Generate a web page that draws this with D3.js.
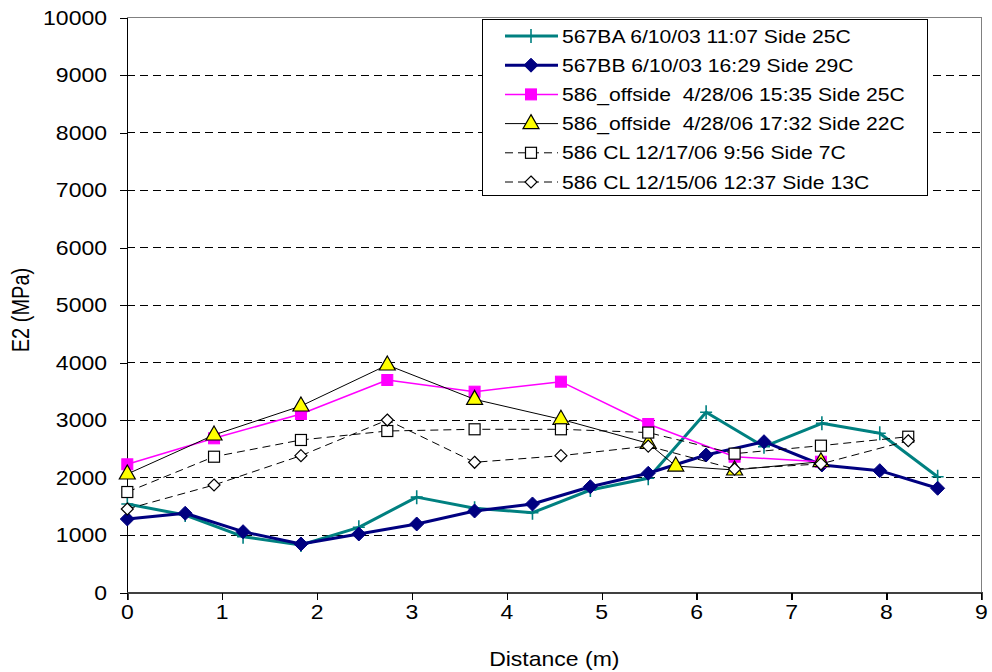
<!DOCTYPE html>
<html><head><meta charset="utf-8">
<script src="https://cdn.jsdelivr.net/npm/d3@7"></script>
<style>
html,body{margin:0;padding:0;background:#fff;}
svg{display:block;}
text{font-family:"Liberation Sans",Arial,Helvetica,sans-serif;fill:#000;white-space:pre;}
</style></head>
<body><svg id="c" width="992" height="672"></svg>
<script>
// ---------- data ----------
const xTicks = [0,1,2,3,4,5,6,7,8,9];
const yTicks = [0,1000,2000,3000,4000,5000,6000,7000,8000,9000,10000];
const xLabel = "Distance (m)";
const yLabel = "E2 (MPa)";

const dist567 = [0,0.61,1.22,1.83,2.44,3.05,3.66,4.27,4.88,5.49,6.10,6.71,7.32,7.93,8.54];
const e567BA  = [1543,1351,974,830,1137,1662,1468,1391,1786,1990,3137,2539,2946,2772,2017];
const e567BB  = [1282,1381,1061,847,1021,1195,1421,1543,1843,2077,2395,2626,2221,2122,1816];

const distOff1 = [0,0.914,1.83,2.74,3.66,4.57,5.49,6.40,7.31];
const eOff1    = [2233,2685,3108,3699,3496,3670,2934,2365,2278];

const distOff2 = [0,0.914,1.83,2.74,3.66,4.57,5.49,5.78,6.40,7.31];
const eOff2    = [2064,2743,3247,3960,3363,3016,2598,2203,2134,2278];

const distCL = [0,0.914,1.83,2.74,3.66,4.57,5.49,6.40,7.31,8.23];
const eCL1217 = [1751,2365,2656,2812,2842,2842,2785,2418,2557,2713];
const eCL1215 = [1456,1873,2383,3003,2268,2383,2550,2150,2240,2643];

const seriesNames = [
  "567BA 6/10/03 11:07 Side 25C",
  "567BB 6/10/03 16:29 Side 29C",
  "586_offside  4/28/06 15:35 Side 25C",
  "586_offside  4/28/06 17:32 Side 22C",
  "586 CL 12/17/06 9:56 Side 7C",
  "586 CL 12/15/06 12:37 Side 13C"
];

// ---------- layout / style ----------
const SX = 1.15;          // horizontal stretch of the reference glyphs
const svg = d3.select("#c");
const L = 127.3, R = 981.3, T = 17.7, B = 592.7;
const x = d3.scaleLinear().domain([0,9]).range([L,R]);
const y = d3.scaleLinear().domain([0,10000]).range([B,T]);

const styles = [
  {color:"#008080", width:3,   dash:null,  marker:"plus"},
  {color:"#000080", width:3,   dash:null,  marker:"diamondFill"},
  {color:"#FF00FF", width:1.5, dash:null,  marker:"squareFill"},
  {color:"#000000", width:1,   dash:null,  marker:"triangle"},
  {color:"#000000", width:1,   dash:"8,5", marker:"squareOpen"},
  {color:"#000000", width:1,   dash:"8,5", marker:"diamondOpen"}
];
const series = [
  {xs:dist567, ys:e567BA},
  {xs:dist567, ys:e567BB},
  {xs:distOff1, ys:eOff1},
  {xs:distOff2, ys:eOff2},
  {xs:distCL, ys:eCL1217},
  {xs:distCL, ys:eCL1215}
];

function txt(g, str, tx, ty, size, anchor, extra){
  return g.append("text")
    .attr("transform", `translate(${tx},${ty}) scale(${SX},1)` + (extra||""))
    .attr("text-anchor", anchor)
    .attr("font-size", size)
    .text(str);
}

// gridlines
const grid = svg.append("g");
yTicks.filter(v => v>0 && v<10000).forEach(v=>{
  grid.append("line").attr("x1",L).attr("x2",R).attr("y1",y(v)).attr("y2",y(v))
    .attr("stroke","#000").attr("stroke-width",1).attr("stroke-dasharray","8,5")
    .attr("shape-rendering","crispEdges");
});
// plot border (top/right)
svg.append("path").attr("d",`M${L},${T}H${R}V${B}`).attr("fill","none")
  .attr("stroke","#808080").attr("stroke-width",1.5).attr("shape-rendering","crispEdges");

// axes via d3
const yAxis = svg.append("g").attr("transform",`translate(${L},0)`)
  .call(d3.axisLeft(y).tickValues(yTicks).tickSize(7).tickFormat(""));
const xAxis = svg.append("g").attr("transform",`translate(0,${B})`)
  .call(d3.axisBottom(x).tickValues(xTicks).tickSize(7).tickFormat(""));
[yAxis,xAxis].forEach(a=>{
  a.selectAll("path,line").attr("stroke","#000").attr("stroke-width",1.3).attr("shape-rendering","crispEdges");
});
xAxis.select("path.domain").attr("stroke","#404040").attr("stroke-width",2);

const labels = svg.append("g");
yTicks.forEach(v=> txt(labels, String(v), 107, y(v)+7, 20, "end"));
xTicks.forEach(v=> txt(labels, String(v), x(v), 619, 20, "middle"));
txt(labels, xLabel, (L+R)/2 - 0, 666, 20, "middle");
labels.append("text")
  .attr("transform", `translate(29,310) scale(${SX},1) rotate(-90)`)
  .attr("text-anchor","middle").attr("font-size",20).text(yLabel);

// markers
function drawMarker(g, kind, cx, cy, color){
  switch(kind){
    case "plus":
      g.append("path").attr("d",`M${cx-6},${cy}H${cx+6}M${cx},${cy-7}V${cy+7}`)
        .attr("stroke",color).attr("stroke-width",1.6).attr("fill","none"); break;
    case "diamondFill":
      g.append("path").attr("d",`M${cx},${cy-7}L${cx+7},${cy}L${cx},${cy+7}L${cx-7},${cy}Z`)
        .attr("fill",color).attr("stroke",color).attr("stroke-width",1); break;
    case "squareFill":
      g.append("rect").attr("x",cx-5.5).attr("y",cy-5.5).attr("width",11).attr("height",11)
        .attr("fill",color).attr("stroke",color).attr("stroke-width",1); break;
    case "triangle":
      g.append("path").attr("d",`M${cx},${cy-9}L${cx+8},${cy+5}L${cx-8},${cy+5}Z`)
        .attr("fill","#FFFF00").attr("stroke","#000").attr("stroke-width",1.2); break;
    case "squareOpen":
      g.append("rect").attr("x",cx-5.5).attr("y",cy-5.5).attr("width",11).attr("height",11)
        .attr("fill","#fff").attr("stroke","#000").attr("stroke-width",1.2); break;
    case "diamondOpen":
      g.append("path").attr("d",`M${cx},${cy-6}L${cx+6},${cy}L${cx},${cy+6}L${cx-6},${cy}Z`)
        .attr("fill","#fff").attr("stroke","#000").attr("stroke-width",1.2); break;
  }
}

const line = d3.line().x(d=>x(d[0])).y(d=>y(d[1]));
const plot = svg.append("g");
series.forEach((s,i)=>{
  const st = styles[i];
  const pts = s.xs.map((v,j)=>[v,s.ys[j]]);
  const g = plot.append("g");
  g.append("path").datum(pts).attr("d",line).attr("fill","none")
    .attr("stroke",st.color).attr("stroke-width",st.width)
    .attr("stroke-dasharray",st.dash).attr("stroke-linejoin","round");
  pts.forEach(p=> drawMarker(g, st.marker, x(p[0]), y(p[1]), st.color));
});

// legend
const leg = svg.append("g");
leg.append("rect").attr("x",482.5).attr("y",19.5).attr("width",445).attr("height",176)
  .attr("fill","#fff").attr("stroke","#000").attr("stroke-width",1);
seriesNames.forEach((name,i)=>{
  const cy = 36 + i*29.2;
  const st = styles[i];
  leg.append("line").attr("x1",505).attr("x2",558).attr("y1",cy).attr("y2",cy)
    .attr("stroke",st.color).attr("stroke-width",st.width).attr("stroke-dasharray",st.dash);
  drawMarker(leg, st.marker, 531, cy, st.color);
  leg.append("text").attr("transform",`translate(562,${cy+6.5}) scale(${SX},1)`)
    .attr("font-size",18.4).text(name);
});
</script>
</body></html>
